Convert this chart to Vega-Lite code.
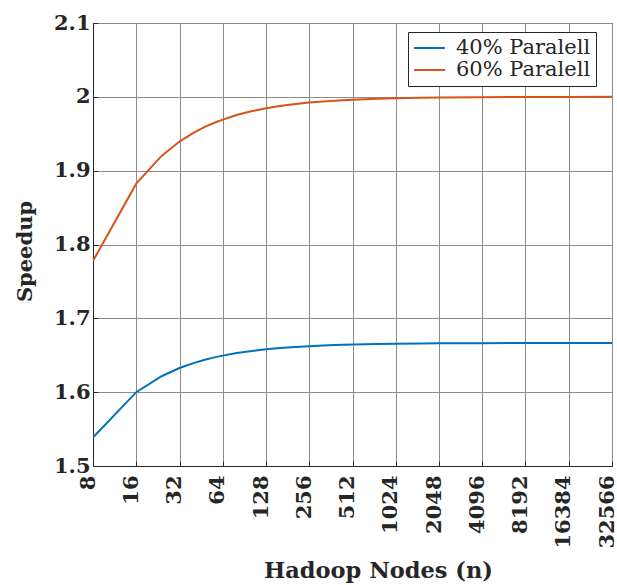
{
  "$schema": "https://vega.github.io/schema/vega-lite/v6.json",
  "width": 519,
  "height": 443,
  "autosize": {"type": "none"},
  "padding": {"left": 93, "top": 23, "right": 5, "bottom": 119},
  "background": "white",
  "config": {
    "view": {"stroke": "#262626", "strokeWidth": 1},
    "font": "DejaVu Serif"
  },
  "data": {
    "values": [
      {"n": 8, "s": 1.5385, "series": "40% Paralell"},
      {"n": 16, "s": 1.6, "series": "40% Paralell"},
      {"n": 24, "s": 1.6216, "series": "40% Paralell"},
      {"n": 32, "s": 1.6327, "series": "40% Paralell"},
      {"n": 40, "s": 1.6393, "series": "40% Paralell"},
      {"n": 48, "s": 1.6438, "series": "40% Paralell"},
      {"n": 56, "s": 1.6471, "series": "40% Paralell"},
      {"n": 64, "s": 1.6495, "series": "40% Paralell"},
      {"n": 80, "s": 1.6529, "series": "40% Paralell"},
      {"n": 96, "s": 1.6552, "series": "40% Paralell"},
      {"n": 112, "s": 1.6568, "series": "40% Paralell"},
      {"n": 128, "s": 1.658, "series": "40% Paralell"},
      {"n": 160, "s": 1.6598, "series": "40% Paralell"},
      {"n": 192, "s": 1.6609, "series": "40% Paralell"},
      {"n": 256, "s": 1.6623, "series": "40% Paralell"},
      {"n": 320, "s": 1.6632, "series": "40% Paralell"},
      {"n": 384, "s": 1.6638, "series": "40% Paralell"},
      {"n": 512, "s": 1.6645, "series": "40% Paralell"},
      {"n": 768, "s": 1.6652, "series": "40% Paralell"},
      {"n": 1024, "s": 1.6656, "series": "40% Paralell"},
      {"n": 1536, "s": 1.6659, "series": "40% Paralell"},
      {"n": 2048, "s": 1.6661, "series": "40% Paralell"},
      {"n": 4096, "s": 1.6664, "series": "40% Paralell"},
      {"n": 8192, "s": 1.6665, "series": "40% Paralell"},
      {"n": 16384, "s": 1.6666, "series": "40% Paralell"},
      {"n": 32768, "s": 1.6667, "series": "40% Paralell"},
      {"n": 8, "s": 1.7778, "series": "60% Paralell"},
      {"n": 16, "s": 1.8824, "series": "60% Paralell"},
      {"n": 24, "s": 1.92, "series": "60% Paralell"},
      {"n": 32, "s": 1.9394, "series": "60% Paralell"},
      {"n": 40, "s": 1.9512, "series": "60% Paralell"},
      {"n": 48, "s": 1.9592, "series": "60% Paralell"},
      {"n": 56, "s": 1.9649, "series": "60% Paralell"},
      {"n": 64, "s": 1.9692, "series": "60% Paralell"},
      {"n": 80, "s": 1.9753, "series": "60% Paralell"},
      {"n": 96, "s": 1.9794, "series": "60% Paralell"},
      {"n": 112, "s": 1.9823, "series": "60% Paralell"},
      {"n": 128, "s": 1.9845, "series": "60% Paralell"},
      {"n": 160, "s": 1.9876, "series": "60% Paralell"},
      {"n": 192, "s": 1.9896, "series": "60% Paralell"},
      {"n": 256, "s": 1.9922, "series": "60% Paralell"},
      {"n": 320, "s": 1.9938, "series": "60% Paralell"},
      {"n": 384, "s": 1.9948, "series": "60% Paralell"},
      {"n": 512, "s": 1.9961, "series": "60% Paralell"},
      {"n": 768, "s": 1.9974, "series": "60% Paralell"},
      {"n": 1024, "s": 1.998, "series": "60% Paralell"},
      {"n": 1536, "s": 1.9987, "series": "60% Paralell"},
      {"n": 2048, "s": 1.999, "series": "60% Paralell"},
      {"n": 4096, "s": 1.9995, "series": "60% Paralell"},
      {"n": 8192, "s": 1.9998, "series": "60% Paralell"},
      {"n": 16384, "s": 1.9999, "series": "60% Paralell"},
      {"n": 32768, "s": 2.0, "series": "60% Paralell"}
    ]
  },
  "mark": {"type": "line", "strokeWidth": 2, "clip": true},
  "encoding": {
    "x": {
      "field": "n",
      "type": "quantitative",
      "scale": {"type": "log", "base": 2, "domain": [8, 32768], "nice": false},
      "axis": {
        "title": "Hadoop Nodes (n)",
        "titleFont": "DejaVu Serif",
        "titleFontSize": 22.5,
        "titleFontWeight": "bold",
        "titleColor": "#262626",
        "titleX": 285,
        "titleY": 111,
        "titleAlign": "center",
        "titleBaseline": "alphabetic",
        "values": [8, 16, 32, 64, 128, 256, 512, 1024, 2048, 4096, 8192, 16384, 32768],
        "labelExpr": "datum.value == 32768 ? '32566' : format(datum.value, 'd')",
        "labelAngle": -90,
        "labelAlign": "right",
        "labelBaseline": "middle",
        "labelOffset": -5,
        "labelFont": "DejaVu Serif",
        "labelFontSize": 21,
        "labelFontWeight": "bold",
        "labelColor": "#262626",
        "labelPadding": 14,
        "labelFlush": false,
        "labelOverlap": false,
        "tickSize": -5,
        "tickColor": "#262626",
        "domainColor": "#262626",
        "grid": true,
        "gridColor": "#8c8c8c",
        "gridWidth": 1
      }
    },
    "y": {
      "field": "s",
      "type": "quantitative",
      "scale": {"domain": [1.5, 2.1], "nice": false, "zero": false},
      "axis": {
        "title": "Speedup",
        "titleFont": "DejaVu Serif",
        "titleFontSize": 21,
        "titleFontWeight": "bold",
        "titleColor": "#262626",
        "titleX": -68,
        "titleY": 228,
        "titleAngle": -90,
        "titleAlign": "center",
        "titleBaseline": "middle",
        "values": [1.5, 1.6, 1.7, 1.8, 1.9, 2.0, 2.1],
        "format": ".1~f",
        "labelFont": "DejaVu Serif",
        "labelFontSize": 21,
        "labelFontWeight": "bold",
        "labelColor": "#262626",
        "labelPadding": 8,
        "labelFlush": false,
        "labelOverlap": false,
        "tickSize": -5,
        "tickColor": "#262626",
        "domainColor": "#262626",
        "grid": true,
        "gridColor": "#8c8c8c",
        "gridWidth": 1
      }
    },
    "color": {
      "field": "series",
      "type": "nominal",
      "scale": {"domain": ["40% Paralell", "60% Paralell"], "range": ["#0072BD", "#D95319"]},
      "legend": {
        "title": null,
        "orient": "none",
        "legendX": 315,
        "legendY": 9,
        "symbolType": "stroke",
        "symbolSize": 961,
        "symbolStrokeWidth": 2,
        "clipHeight": 22,
        "labelFont": "DejaVu Serif",
        "labelFontSize": 21,
        "labelColor": "#262626",
        "labelOffset": 10,
        "rowPadding": 0,
        "padding": 5,
        "strokeColor": "#262626",
        "fillColor": "white"
      }
    }
  }
}
